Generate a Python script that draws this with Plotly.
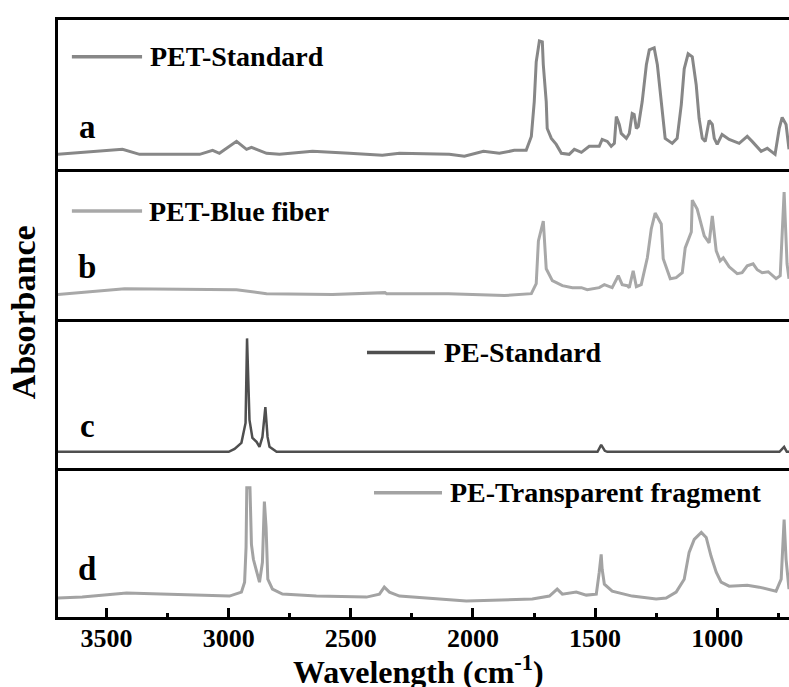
import plotly.graph_objects as go
from plotly.subplots import make_subplots

# ---------------- data (normalized absorbance) ----------------
wn_a = [3700, 3435, 3365, 3119, 3066, 3038, 2968, 2927, 2907, 2845, 2792, 2657, 2506, 2371,
        2301, 2097, 2035, 1957, 1892, 1831, 1782, 1761, 1749, 1741, 1728, 1716, 1712, 1700,
        1696, 1679, 1659, 1638, 1606, 1585, 1556, 1524, 1483, 1471, 1450, 1434, 1421, 1413,
        1401, 1393, 1372, 1360, 1348, 1340, 1331, 1323, 1307, 1290, 1278, 1258, 1245, 1229,
        1213, 1184, 1164, 1147, 1135, 1119, 1102, 1086, 1074, 1061, 1049, 1033, 1020, 1012,
        1000, 980, 951, 910, 877, 857, 820, 795, 763, 746, 734, 718, 706]
abs_a = [0.15, 0.20, 0.15, 0.15, 0.19, 0.16, 0.28, 0.20, 0.22, 0.16, 0.15, 0.18, 0.16, 0.14,
         0.16, 0.15, 0.13, 0.18, 0.16, 0.19, 0.19, 0.33, 0.68, 1.08, 1.29, 1.28, 1.05, 0.68,
         0.41, 0.31, 0.25, 0.16, 0.15, 0.20, 0.17, 0.23, 0.23, 0.30, 0.28, 0.23, 0.26, 0.53,
         0.45, 0.36, 0.31, 0.36, 0.56, 0.55, 0.41, 0.43, 0.68, 1.05, 1.20, 1.22, 1.05, 0.68,
         0.31, 0.26, 0.31, 0.65, 1.01, 1.16, 1.13, 0.85, 0.51, 0.31, 0.28, 0.49, 0.45, 0.31,
         0.25, 0.35, 0.30, 0.26, 0.33, 0.28, 0.18, 0.21, 0.15, 0.41, 0.52, 0.45, 0.20]

wn_b = [3700, 3426, 2968, 2845, 2575, 2360, 2354, 2100, 1871, 1761, 1741, 1732, 1712, 1700,
        1675, 1634, 1593, 1556, 1532, 1483, 1462, 1430, 1405, 1389, 1368, 1360, 1344, 1331,
        1311, 1286, 1270, 1254, 1229, 1221, 1192, 1168, 1143, 1131, 1106, 1102, 1082, 1053,
        1033, 1020, 1004, 988, 975, 951, 918, 898, 877, 853, 836, 816, 791, 759, 742, 726,
        714, 706]
abs_b = [0.24, 0.30, 0.29, 0.25, 0.24, 0.26, 0.25, 0.25, 0.23, 0.25, 0.35, 0.78, 0.98, 0.50,
         0.38, 0.33, 0.31, 0.31, 0.29, 0.31, 0.34, 0.31, 0.43, 0.34, 0.33, 0.31, 0.48, 0.32,
         0.34, 0.61, 0.90, 1.06, 0.95, 0.60, 0.40, 0.41, 0.46, 0.71, 0.87, 1.19, 1.10, 0.83,
         0.76, 1.03, 0.68, 0.58, 0.61, 0.52, 0.45, 0.46, 0.53, 0.55, 0.49, 0.46, 0.47, 0.40,
         0.43, 1.27, 0.55, 0.40]

wn_c = [3700, 3000, 2976, 2948, 2931, 2925, 2915, 2903, 2886, 2874, 2862, 2850, 2841, 2833,
        2804, 1490, 1475, 1460, 1450, 745, 726, 715, 706]
abs_c = [0.16, 0.16, 0.19, 0.25, 0.45, 1.30, 0.48, 0.30, 0.26, 0.21, 0.31, 0.61, 0.31, 0.21,
         0.16, 0.16, 0.23, 0.17, 0.16, 0.16, 0.21, 0.16, 0.16]

wn_d = [3700, 3600, 3418, 3119, 2997, 2948, 2935, 2929, 2926, 2913, 2907, 2899, 2886, 2874,
        2862, 2854, 2847, 2840, 2821, 2780, 2641, 2436, 2383, 2363, 2342, 2301, 2027, 1757,
        1687, 1655, 1634, 1577, 1536, 1495, 1483, 1475, 1471, 1462, 1430, 1348, 1250, 1209,
        1168, 1135, 1115, 1094, 1065, 1045, 1025, 1004, 984, 951, 877, 828, 759, 738, 726,
        718, 706]
abs_d = [0.19, 0.20, 0.24, 0.22, 0.21, 0.25, 0.35, 0.70, 1.30, 1.30, 0.73, 0.58, 0.45, 0.35,
         0.55, 1.16, 0.90, 0.38, 0.28, 0.23, 0.21, 0.20, 0.23, 0.30, 0.25, 0.21, 0.16, 0.18,
         0.21, 0.28, 0.23, 0.25, 0.22, 0.23, 0.45, 0.63, 0.48, 0.33, 0.26, 0.21, 0.18, 0.19,
         0.25, 0.38, 0.65, 0.78, 0.85, 0.80, 0.61, 0.45, 0.35, 0.31, 0.32, 0.30, 0.26, 0.38,
         0.98, 0.58, 0.28]

names = ["PET-Standard", "PET-Blue fiber", "PE-Standard", "PE-Transparent fragment"]
panel_letters = ["a", "b", "c", "d"]
tick_vals = [3500, 3000, 2500, 2000, 1500, 1000]
tick_text = ["3500", "3000", "2500", "2000", "1500", "1000"]

# ---------------- styling ----------------
colors = ["#878787", "#a8a8a8", "#4f4f4f", "#a3a3a3"]
widths = [3, 3, 2.5, 3]
FONT = "Times New Roman, Liberation Serif, serif"

series = [(wn_a, abs_a), (wn_b, abs_b), (wn_c, abs_c), (wn_d, abs_d)]

fig = make_subplots(rows=4, cols=1, shared_xaxes=True, vertical_spacing=0)

for i, (wx, ay) in enumerate(series):
    fig.add_trace(go.Scatter(x=wx, y=ay, mode="lines", name=names[i],
                             line=dict(color=colors[i], width=widths[i]),
                             showlegend=False), row=i + 1, col=1)

# legend positions (in axis-domain fractions): line x0, line x1, y, text x
leg_pos = [
    (0.019, 0.115, 0.753, 0.1235),
    (0.019, 0.115, 0.720, 0.122),
    (0.4227, 0.5157, 0.773, 0.525),
    (0.4323, 0.5253, 0.833, 0.534),
]
letter_y = [0.28, 0.347, 0.28, 0.32]

for i in range(4):
    xr = "x" if i == 0 else f"x{i+1}"
    yr = "y" if i == 0 else f"y{i+1}"
    x0, x1, yy, xt = leg_pos[i]
    fig.add_shape(type="line", xref=f"{xr} domain", yref=f"{yr} domain",
                  x0=x0, x1=x1, y0=yy, y1=yy,
                  line=dict(color=colors[i], width=3.5))
    fig.add_annotation(xref=f"{xr} domain", yref=f"{yr} domain", x=xt, y=yy,
                       text=names[i], showarrow=False, xanchor="left", yanchor="middle",
                       font=dict(family=FONT, size=28, color="black", weight="bold"))
    fig.add_annotation(xref=f"{xr} domain", yref=f"{yr} domain", x=0.0397, y=letter_y[i],
                       text=panel_letters[i], showarrow=False, xanchor="center",
                       yanchor="middle",
                       font=dict(family=FONT, size=33, color="black", weight="bold"))

for i in range(4):
    last = (i == 3)
    fig.update_xaxes(row=i + 1, col=1,
                     range=[3699, 706], autorange=False,
                     showline=True, linewidth=3, linecolor="black",
                     mirror=(i == 0), showgrid=False, zeroline=False,
                     tickvals=tick_vals, ticktext=tick_text,
                     ticks="inside" if last else "", ticklen=9, tickwidth=3,
                     tickcolor="black", showticklabels=last,
                     ticklabelstandoff=-4 if last else 0,
                     tickfont=dict(family=FONT, size=26, color="black", weight="bold"),
                     minor=dict(ticks="inside" if last else "", dtick=250, tick0=0,
                                ticklen=4, tickwidth=3, tickcolor="black",
                                showgrid=False))
    fig.update_yaxes(row=i + 1, col=1, range=[0, 1.5], autorange=False,
                     showline=True, linewidth=3, linecolor="black", mirror=False,
                     showgrid=False, zeroline=False, showticklabels=False, ticks="")

fig.add_annotation(xref="paper", yref="paper", x=0.4925, y=-0.088,
                   text="Wavelength (cm<sup>-1</sup>)", showarrow=False,
                   xanchor="center", yanchor="middle",
                   font=dict(family=FONT, size=32, color="black", weight="bold"))

fig.add_annotation(xref="paper", yref="paper", x=-0.047, y=0.51, textangle=-90,
                   text="Absorbance", showarrow=False, xanchor="center", yanchor="middle",
                   font=dict(family=FONT, size=34, color="black", weight="bold"))

fig.update_layout(width=789, height=687,
                  margin=dict(l=58, r=0, t=20, b=70),
                  paper_bgcolor="white", plot_bgcolor="white",
                  showlegend=False)

fig.write_html("out.html",
               config={"displayModeBar": False},
               post_script="document.body.style.margin='0';"
                           "document.body.style.overflow='hidden';")
